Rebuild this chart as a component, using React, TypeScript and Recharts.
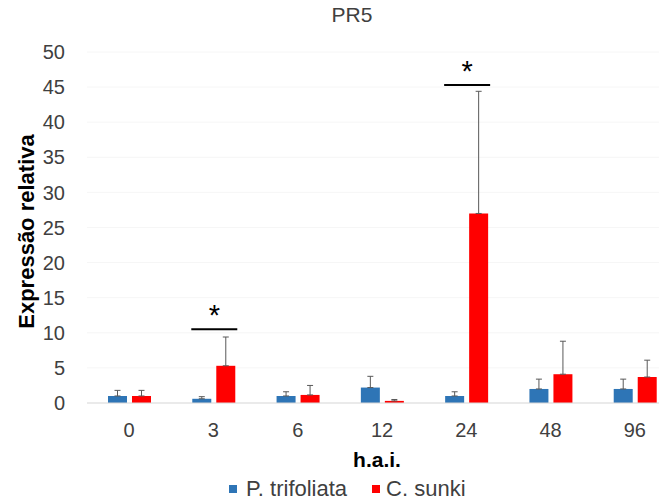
import { BarChart, Bar, XAxis, YAxis, CartesianGrid, ErrorBar, Legend, LabelList, Label } from 'recharts';

const hours = ['0', '3', '6', '12', '24', '48', '96'];
const trifoliata = [1.0, 0.6, 1.0, 2.2, 1.0, 2.0, 2.0];
const trifoliataErr = [0.8, 0.3, 0.6, 1.6, 0.6, 1.4, 1.4];
const sunki = [1.0, 5.3, 1.15, 0.3, 27.0, 4.1, 3.7];
const sunkiErr = [0.8, 4.1, 1.35, 0.2, 17.4, 4.7, 2.4];
const signif = [null, 10.5, null, null, 45.3, null, null];
const yTicks = [0, 5, 10, 15, 20, 25, 30, 35, 40, 45, 50];

const BLUE = '#2E75B6';
const RED = '#FF0000';
const BAR_GAP = 5;
const FONT = '"Liberation Sans", Arial, sans-serif';

const data = hours.map((h, i) => ({
  h,
  p: trifoliata[i],
  pErr: [0, trifoliataErr[i]],
  c: sunki[i],
  cErr: [0, sunkiErr[i]],
  sig: signif[i],
}));

// bracket + star above both bars of a group
const renderSig = (props: any) => {
  const vb = props.viewBox ?? props;
  const { x, y, width, height } = vb;
  const { value, index } = props;
  if (value == null) return null;
  const ppu = height / sunki[index];
  const ly = y + height - value * ppu;
  const left = x - BAR_GAP - width - 1;
  const right = x + width + 2;
  return (
    <g>
      <line x1={left} x2={right} y1={ly} y2={ly} stroke="#000" strokeWidth={2} />
      <text x={(left + right) / 2} y={ly - 4} textAnchor="middle" fontSize={29} fill="#000" fontFamily={FONT}>
        *
      </text>
    </g>
  );
};

const renderLegend = () => (
  <div style={{ display: 'flex', alignItems: 'center', fontSize: 22, color: '#404040', fontFamily: FONT, whiteSpace: 'nowrap' }}>
    <span style={{ width: 8, height: 8, background: BLUE, display: 'inline-block', marginRight: 9 }} />
    <span style={{ marginRight: 25 }}>P. trifoliata</span>
    <span style={{ width: 8, height: 8, background: RED, display: 'inline-block', marginRight: 6 }} />
    <span>C. sunki</span>
  </div>
);

export default function App() {
  return (
    <div style={{ position: 'relative', width: 667, height: 504, margin: -8, overflow: 'hidden', background: '#fff', fontFamily: FONT }}>
      <div style={{ position: 'absolute', top: 3, left: 0, width: 704, textAlign: 'center', fontSize: 21, lineHeight: '24px', color: '#404040', zIndex: 1 }}>PR5</div>
      <BarChart
        width={690}
        height={504}
        data={data}
        margin={{ top: 52, right: 13, left: 0, bottom: 0 }}
        barGap={BAR_GAP}
        barSize={19}
      >
        <CartesianGrid vertical={false} stroke="#f6f6f6" />
        <XAxis
          dataKey="h"
          height={101}
          tickLine={false}
          axisLine={{ stroke: '#d9d9d9' }}
          tick={{ fontSize: 20, fill: '#404040' }}
          tickMargin={14}
        >
          <Label value="h.a.i." position="insideTop" offset={49} dx={-5} fontSize={21} fontWeight="bold" fill="#000" />
        </XAxis>
        <YAxis
          width={87}
          domain={[0, 50]}
          ticks={yTicks}
          interval={0}
          tickLine={false}
          axisLine={false}
          tick={{ fontSize: 20, fill: '#404040' }}
          tickMargin={16}
        >
          <Label
            content={({ viewBox }: any) => {
              const cx = 26;
              const cy = viewBox.y + viewBox.height / 2 + 4;
              return (
                <text x={cx} y={cy} transform={`rotate(-90 ${cx} ${cy})`} textAnchor="middle" dominantBaseline="central" fontSize={22} fontWeight="bold" fill="#000" fontFamily={FONT}>
                  Expressão relativa
                </text>
              );
            }}
          />
        </YAxis>
        <Legend
          verticalAlign="middle"
          layout="horizontal"
          align="center"
          wrapperStyle={{ top: 476, left: 229, width: 'auto' }}
          content={renderLegend}
        />
        <Bar dataKey="p" name="P. trifoliata" fill={BLUE} isAnimationActive={false}>
          <ErrorBar dataKey="pErr" width={3} stroke="#595959" strokeWidth={1} direction="y" />
        </Bar>
        <Bar dataKey="c" name="C. sunki" fill={RED} isAnimationActive={false}>
          <ErrorBar dataKey="cErr" width={3} stroke="#595959" strokeWidth={1} direction="y" />
          <LabelList dataKey="sig" content={renderSig} />
        </Bar>
      </BarChart>
    </div>
  );
}
